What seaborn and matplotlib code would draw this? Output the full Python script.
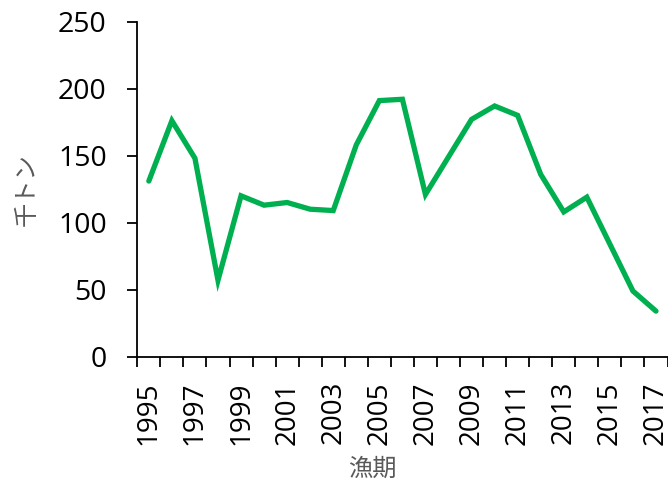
import numpy as np
import pandas as pd
import matplotlib
matplotlib.use("Agg")
import matplotlib.pyplot as plt
import seaborn as sns

# Annual catch (thousand tonnes) by fishing season
years = list(range(1995, 2018))
catch = [131, 176, 148, 57, 120, 113, 115, 110, 109, 158, 191, 192,
         121, 149, 177, 187, 180, 136, 108, 119, 84, 49, 34]
year_labels = [str(y) for y in years[::2]]

sns.set_theme(style="white")
plt.rcParams["font.family"] = ["Open Sans", "DejaVu Sans"]

df = pd.DataFrame({"year": years, "catch": catch})

fig = plt.figure(figsize=(6.68, 4.84), dpi=100)
ax_left, ax_right, ax_top, ax_bottom = 137.3, 667.5, 21.5, 356.7
ax = fig.add_axes([ax_left / 668, 1 - ax_bottom / 484,
                   (ax_right - ax_left) / 668, (ax_bottom - ax_top) / 484])

sns.lineplot(data=df, x="year", y="catch", ax=ax, color="#00B050",
             linewidth=3.8, solid_joinstyle="miter", clip_on=False)

ax.set_xlim(years[0] - 0.5, years[-1] + 0.5)
ax.set_ylim(0, 250)
ax.set_yticks(range(0, 251, 50))
ax.set_xticks(years[::2])
ax.set_xticklabels(year_labels, rotation=90, fontsize=20, color="black")
ax.set_xticks(np.arange(years[0] - 0.5, years[-1] + 1.0, 1.0), minor=True)

ax.tick_params(axis="x", which="major", length=0, pad=17.5)
ax.tick_params(axis="x", which="minor", length=7, width=1.3, color="black", direction="out", bottom=True)
ax.tick_params(axis="y", which="major", length=7, width=1.3, color="black", direction="out",
               left=True, pad=15, labelsize=20.5, labelcolor="black")

for side in ["top", "right"]:
    ax.spines[side].set_visible(False)
for side in ["left", "bottom"]:
    ax.spines[side].set_color("black")
    ax.spines[side].set_linewidth(1.3)

cjk = ["Noto Sans CJK JP", "DejaVu Sans"]
ax.set_xlabel("漁期", family=cjk, fontsize=17.5, color="#595959")
ax.set_ylabel("千トン", family=cjk, fontsize=17.5, color="#595959")
ax.xaxis.label.set_verticalalignment("center")
ax.yaxis.label.set_verticalalignment("center")
ax.yaxis.label.set_horizontalalignment("center")
w, h = ax_right - ax_left, ax_bottom - ax_top
ax.xaxis.set_label_coords((372 - ax_left) / w, -(469 - ax_bottom) / h)
ax.yaxis.set_label_coords(-(ax_left - 27) / w, (ax_bottom - 190) / h)

fig.savefig("out.png", dpi=100)
